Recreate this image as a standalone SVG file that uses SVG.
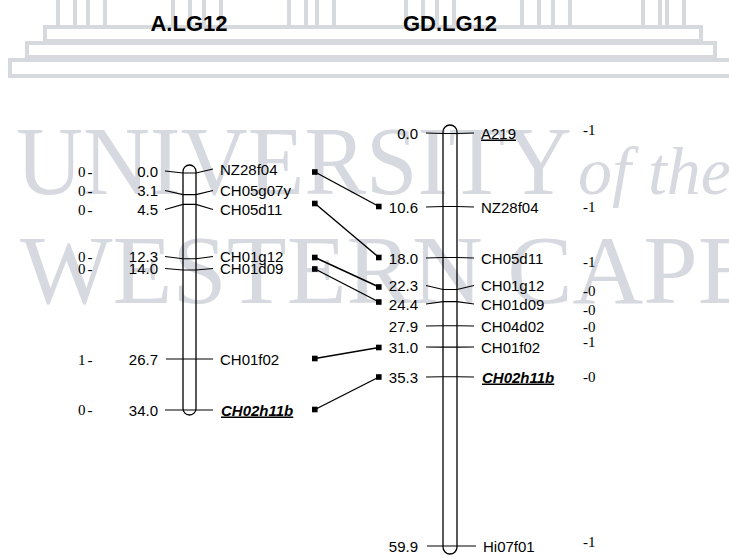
<svg xmlns="http://www.w3.org/2000/svg" width="729" height="557" viewBox="0 0 729 557">
<style>
  .wm { font-family: "Liberation Serif", "Times New Roman", serif; fill: #d6d9df; }
  .bld { fill: #ffffff; stroke: #d6d9de; stroke-width: 4; }
  .title { font-family: "Liberation Sans", Arial, sans-serif; font-weight: bold; font-size: 22px; fill: #000; text-anchor: middle; }
  .num { font-family: "Liberation Sans", Arial, sans-serif; font-size: 15px; fill: #000; text-anchor: end; }
  .lab { font-family: "Liberation Sans", Arial, sans-serif; font-size: 15px; fill: #000; }
  .key { font-weight: bold; font-style: italic; text-decoration: underline; }
  .ul { text-decoration: underline; }
  .val { font-family: "Liberation Serif", "Times New Roman", serif; font-size: 15px; fill: #000; }
  .chr { fill: none; stroke: #000; stroke-width: 1.3; }
  .tick { fill: none; stroke: #000; stroke-width: 1.1; }
  .conn { stroke: #000; stroke-width: 1.4; fill: none; }
  .sq { fill: #000; }
</style>
<rect width="729" height="557" fill="#ffffff"/>
<g id="watermark">
  <rect class="bld" x="58" y="-6" width="17" height="33"/>
  <rect class="bld" x="88" y="-6" width="17" height="33"/>
  <rect class="bld" x="173" y="-6" width="17" height="33"/>
  <rect class="bld" x="204" y="-6" width="17" height="33"/>
  <rect class="bld" x="289" y="-6" width="17" height="33"/>
  <rect class="bld" x="317" y="-6" width="17" height="33"/>
  <rect class="bld" x="406" y="-6" width="17" height="33"/>
  <rect class="bld" x="437" y="-6" width="17" height="33"/>
  <rect class="bld" x="522" y="-6" width="17" height="33"/>
  <rect class="bld" x="553" y="-6" width="17" height="33"/>
  <rect class="bld" x="643" y="-6" width="17" height="33"/>
  <rect class="bld" x="667" y="-6" width="17" height="33"/>
  <rect class="bld" x="45" y="27" width="656" height="14"/>
  <rect class="bld" x="27" y="43" width="688" height="14"/>
  <rect class="bld" x="10" y="60" width="722" height="16"/>
  <text class="wm" x="16" y="194" font-size="98" textLength="556" lengthAdjust="spacingAndGlyphs">UNIVERSITY</text>
  <text class="wm" x="578" y="194" font-size="68" font-style="italic">of the</text>
  <text class="wm" x="20" y="303" font-size="98">WESTERN CAPE</text>
</g>

<g id="title-A"><text class="title" x="189" y="31">A.LG12</text></g>
<g id="title-GD"><text class="title" x="450" y="31">GD.LG12</text></g>

<g id="chrA">
  <rect class="chr" x="183" y="165" width="13" height="250" rx="6.5" ry="6.5"/>
  <polyline class="tick" points="165,171 183,173 196,173 213,169"/>
  <polyline class="tick" points="165,190.5 183,194.6 196,194.6 213,190.5"/>
  <polyline class="tick" points="165,209.5 183,204.4 196,204.4 213,209.5"/>
  <polyline class="tick" points="165,256.5 183,258.7 196,258.7 213,256.5"/>
  <polyline class="tick" points="165,268.5 183,270 196,270 213,268.5"/>
  <polyline class="tick" points="166,359 183,359 196,359 213,359"/>
  <polyline class="tick" points="165,410 183,410 196,410 213,410"/>
  <text class="num" x="158" y="176.5">0.0</text>
  <text class="num" x="158" y="196">3.1</text>
  <text class="num" x="158" y="215">4.5</text>
  <text class="num" x="158" y="262">12.3</text>
  <text class="num" x="158" y="274">14.0</text>
  <text class="num" x="158" y="364.5">26.7</text>
  <text class="num" x="158" y="415.5">34.0</text>
  <text class="lab" x="220" y="174.5">NZ28f04</text>
  <text class="lab" x="220" y="196">CH05g07y</text>
  <text class="lab" x="220" y="215">CH05d11</text>
  <text class="lab" x="220" y="262">CH01g12</text>
  <text class="lab" x="220" y="274">CH01d09</text>
  <text class="lab" x="220" y="364.5">CH01f02</text>
  <text class="lab key" x="221" y="415.5">CH02h11b</text>
  <text class="val" x="78" y="177" letter-spacing="2">0-</text>
  <text class="val" x="78" y="196" letter-spacing="2">0-</text>
  <text class="val" x="78" y="215" letter-spacing="2">0-</text>
  <text class="val" x="78" y="262" letter-spacing="2">0-</text>
  <text class="val" x="78" y="274" letter-spacing="2">0-</text>
  <text class="val" x="78" y="365" letter-spacing="2">1-</text>
  <text class="val" x="78" y="415" letter-spacing="2">0-</text>
</g>

<g id="chrGD">
  <rect class="chr" x="443" y="125" width="14" height="429" rx="7" ry="7"/>
  <polyline class="tick" points="426,133 443,133.5 457,133.5 474,133"/>
  <polyline class="tick" points="426,207 443,206.5 457,206.5 474,207"/>
  <polyline class="tick" points="426,258 443,257.5 457,257.5 474,258"/>
  <polyline class="tick" points="426,285.5 443,289.5 457,289.5 474,285.5"/>
  <polyline class="tick" points="426,304 443,301.6 457,301.6 474,304"/>
  <polyline class="tick" points="426,326 443,325.7 457,325.7 474,326"/>
  <polyline class="tick" points="426,347 443,347.1 457,347.1 474,347"/>
  <polyline class="tick" points="426,377 443,376.7 457,376.7 474,377"/>
  <polyline class="tick" points="427,546 443,546 457,546 476,546"/>
  <text class="num" x="418" y="138.5">0.0</text>
  <text class="num" x="418" y="212.5">10.6</text>
  <text class="num" x="418" y="263.5">18.0</text>
  <text class="num" x="418" y="291">22.3</text>
  <text class="num" x="418" y="309.5">24.4</text>
  <text class="num" x="418" y="331.5">27.9</text>
  <text class="num" x="418" y="352.5">31.0</text>
  <text class="num" x="418" y="382.5">35.3</text>
  <text class="num" x="418" y="551.5">59.9</text>
  <text class="lab ul" x="481" y="138.5">A219</text>
  <text class="lab" x="481" y="212.5">NZ28f04</text>
  <text class="lab" x="481" y="263.5">CH05d11</text>
  <text class="lab" x="481" y="291">CH01g12</text>
  <text class="lab" x="481" y="309.5">CH01d09</text>
  <text class="lab" x="481" y="331.5">CH04d02</text>
  <text class="lab" x="481" y="352.5">CH01f02</text>
  <text class="lab key" x="482" y="382.5">CH02h11b</text>
  <text class="lab" x="483" y="551.5">Hi07f01</text>
  <text class="val" x="583" y="135">-1</text>
  <text class="val" x="583" y="212">-1</text>
  <text class="val" x="583" y="267">-1</text>
  <text class="val" x="583" y="296">-0</text>
  <text class="val" x="583" y="315">-0</text>
  <text class="val" x="583" y="332">-0</text>
  <text class="val" x="583" y="347">-1</text>
  <text class="val" x="583" y="382">-0</text>
  <text class="val" x="583" y="547">-1</text>
</g>

<g id="connectors">
  <line class="conn" x1="315" y1="172" x2="379" y2="206.5"/>
  <line class="conn" x1="315" y1="203.5" x2="379" y2="257.5"/>
  <line class="conn" x1="315" y1="257.5" x2="379" y2="287"/>
  <line class="conn" x1="315" y1="269" x2="379" y2="302"/>
  <line class="conn" x1="315" y1="358.5" x2="379" y2="347.5"/>
  <line class="conn" x1="315" y1="409.5" x2="379" y2="377"/>
  <rect class="sq" x="312" y="169.2" width="5.6" height="5.6"/>
  <rect class="sq" x="312" y="200.7" width="5.6" height="5.6"/>
  <rect class="sq" x="312" y="254.7" width="5.6" height="5.6"/>
  <rect class="sq" x="312" y="266.2" width="5.6" height="5.6"/>
  <rect class="sq" x="312" y="355.7" width="5.6" height="5.6"/>
  <rect class="sq" x="312" y="406.7" width="5.6" height="5.6"/>
  <rect class="sq" x="376" y="203.7" width="5.6" height="5.6"/>
  <rect class="sq" x="376" y="254.7" width="5.6" height="5.6"/>
  <rect class="sq" x="376" y="284.2" width="5.6" height="5.6"/>
  <rect class="sq" x="376" y="299.2" width="5.6" height="5.6"/>
  <rect class="sq" x="376" y="344.7" width="5.6" height="5.6"/>
  <rect class="sq" x="376" y="374.2" width="5.6" height="5.6"/>
</g>
</svg>
